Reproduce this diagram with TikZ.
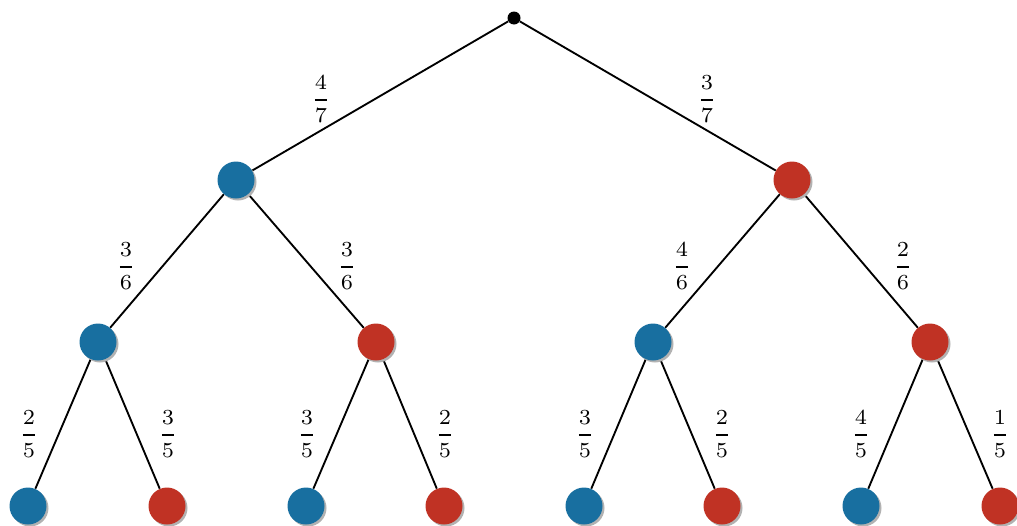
\documentclass[tikz,border=0pt]{standalone}
\usepackage{amsmath}
\usetikzlibrary{shadows}
\definecolor{cblue}{RGB}{24,111,160}
\definecolor{cred}{RGB}{192,50,36}
\pgfdeclarelayer{background}
\pgfsetlayers{background,main}
\newcommand{\fr}[2]{\scalebox{2.3}{\fontsize{7}{8}\selectfont$\genfrac{}{}{0.75pt}{0}{#1}{#2}$}}
\begin{document}
\begin{tikzpicture}[x=0.75pt,y=-0.75pt,
  ball/.style={circle, minimum size=27.75pt, inner sep=0pt,
    drop shadow={shadow xshift=1.5pt, shadow yshift=-1.5pt, fill=black!30, opacity=1}},
  bl/.style={ball, fill=cblue},
  rd/.style={ball, fill=cred},
  rootdot/.style={circle, fill=black, minimum size=9.75pt, inner sep=0pt},
  lbl/.style={inner sep=0pt},
  conn/.style={line width=1.4pt}]
\useasboundingbox (0,0) rectangle (1017,525);
\node[rootdot] (r) at (514,18) {};
\node[bl] (a) at (236,180) {};
\node[rd] (b) at (792,180) {};
\node[bl] (c) at (98,342) {};
\node[rd] (d) at (376,342) {};
\node[bl] (e) at (653,342) {};
\node[rd] (f) at (930,342) {};
\node[bl] (l1) at (28,506) {};
\node[rd] (l2) at (167,506) {};
\node[bl] (l3) at (306,506) {};
\node[rd] (l4) at (444,506) {};
\node[bl] (l5) at (584,506) {};
\node[rd] (l6) at (722,506) {};
\node[bl] (l7) at (861,506) {};
\node[rd] (l8) at (1000,506) {};
\begin{pgfonlayer}{background}
\draw[conn] (r) -- (a);
\draw[conn] (r) -- (b);
\draw[conn] (a) -- (c);
\draw[conn] (a) -- (d);
\draw[conn] (b) -- (e);
\draw[conn] (b) -- (f);
\draw[conn] (c) -- (l1);
\draw[conn] (c) -- (l2);
\draw[conn] (d) -- (l3);
\draw[conn] (d) -- (l4);
\draw[conn] (e) -- (l5);
\draw[conn] (e) -- (l6);
\draw[conn] (f) -- (l7);
\draw[conn] (f) -- (l8);
\end{pgfonlayer}
\node[lbl] (t1) at (321,99) {\fr{4}{7}};
\node[lbl] (t2) at (707,99) {\fr{3}{7}};
\node[lbl] (t3) at (126,266) {\fr{3}{6}};
\node[lbl] (t4) at (347,266) {\fr{3}{6}};
\node[lbl] (t5) at (682,266) {\fr{4}{6}};
\node[lbl] (t6) at (903,266) {\fr{2}{6}};
\node[lbl] (t7) at (29,434) {\fr{2}{5}};
\node[lbl] (t8) at (168,434) {\fr{3}{5}};
\node[lbl] (t9) at (307,434) {\fr{3}{5}};
\node[lbl] (t10) at (445,434) {\fr{2}{5}};
\node[lbl] (t11) at (585,434) {\fr{3}{5}};
\node[lbl] (t12) at (722,434) {\fr{2}{5}};
\node[lbl] (t13) at (861,434) {\fr{4}{5}};
\node[lbl] (t14) at (1000,434) {\fr{1}{5}};
\end{tikzpicture}
\end{document}
